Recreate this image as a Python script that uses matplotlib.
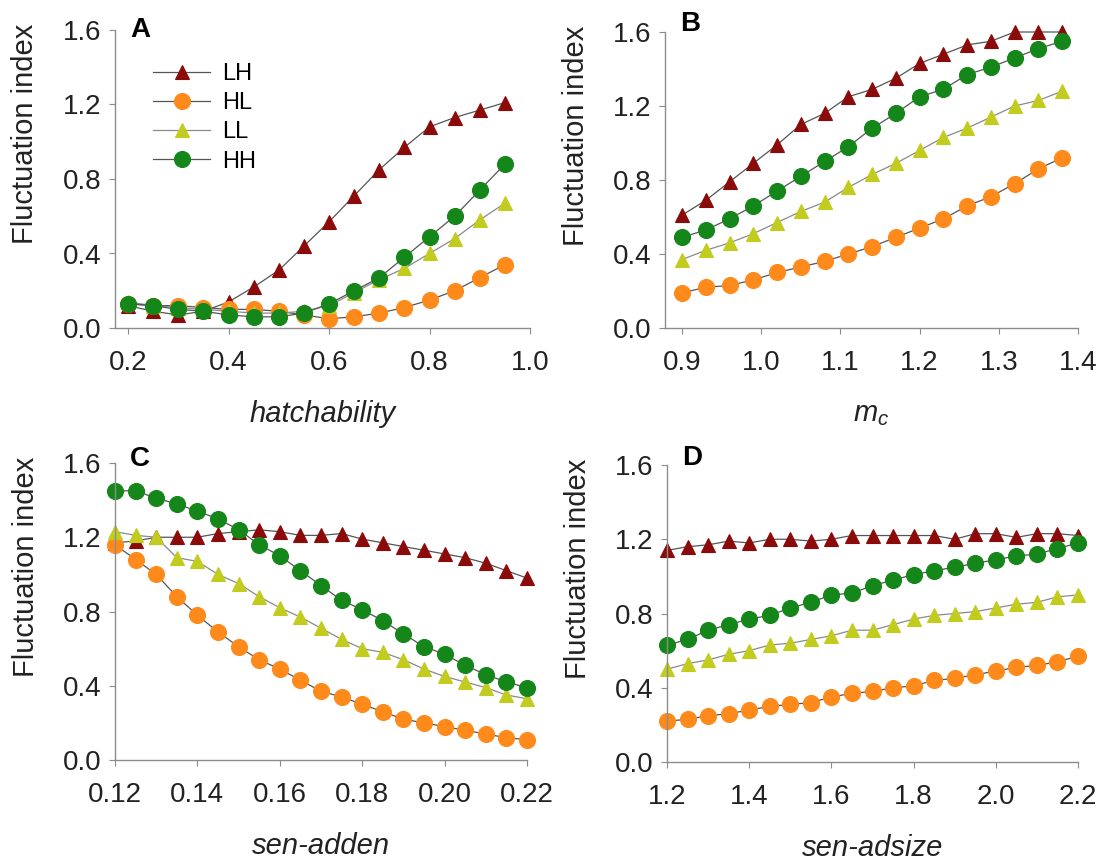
import matplotlib
matplotlib.use("Agg")
import matplotlib.pyplot as plt

plt.rcParams["font.family"] = ["Liberation Sans", "DejaVu Sans"]
plt.rcParams["mathtext.fontset"] = "custom"
plt.rcParams["mathtext.it"] = "Liberation Sans:italic"
plt.rcParams["mathtext.rm"] = "Liberation Sans"

series = ["LH", "HL", "LL", "HH"]
colors = {"LH": "#8b0a0a", "HL": "#ff8a1c", "LL": "#c2cc1e", "HH": "#14861a"}
markers = {"LH": "^", "HL": "o", "LL": "^", "HH": "o"}

# A: hatchability
x_a = [0.2, 0.25, 0.3, 0.35, 0.4, 0.45, 0.5, 0.55, 0.6, 0.65, 0.7, 0.75, 0.8, 0.85, 0.9, 0.95]
lh_a = [0.12, 0.09, 0.07, 0.09, 0.14, 0.22, 0.31, 0.44, 0.57, 0.71, 0.85, 0.97, 1.08, 1.13, 1.17, 1.21]
hl_a = [0.13, 0.12, 0.12, 0.11, 0.10, 0.10, 0.09, 0.07, 0.05, 0.06, 0.08, 0.11, 0.15, 0.20, 0.27, 0.34]
ll_a = [0.14, 0.12, 0.11, 0.10, 0.09, 0.08, 0.08, 0.09, 0.12, 0.19, 0.26, 0.32, 0.40, 0.48, 0.58, 0.67]
hh_a = [0.13, 0.12, 0.10, 0.09, 0.07, 0.06, 0.06, 0.08, 0.13, 0.20, 0.27, 0.38, 0.49, 0.60, 0.74, 0.88]

# B: m_c
x_b = [0.9, 0.93, 0.96, 0.99, 1.02, 1.05, 1.08, 1.11, 1.14, 1.17, 1.2, 1.23, 1.26, 1.29, 1.32, 1.35, 1.38]
lh_b = [0.61, 0.69, 0.79, 0.89, 0.99, 1.10, 1.16, 1.25, 1.29, 1.35, 1.43, 1.48, 1.53, 1.55, 1.60, 1.60, 1.60]
hl_b = [0.19, 0.22, 0.23, 0.26, 0.30, 0.33, 0.36, 0.40, 0.44, 0.49, 0.54, 0.59, 0.66, 0.71, 0.78, 0.86, 0.92]
ll_b = [0.37, 0.42, 0.46, 0.51, 0.57, 0.63, 0.68, 0.76, 0.83, 0.89, 0.96, 1.03, 1.08, 1.14, 1.20, 1.23, 1.28]
hh_b = [0.49, 0.53, 0.59, 0.66, 0.74, 0.82, 0.90, 0.98, 1.08, 1.16, 1.25, 1.29, 1.37, 1.41, 1.46, 1.51, 1.55]

# C: sen-adden
x_c = [0.12, 0.125, 0.13, 0.135, 0.14, 0.145, 0.15, 0.155, 0.16, 0.165, 0.17,
       0.175, 0.18, 0.185, 0.19, 0.195, 0.2, 0.205, 0.21, 0.215, 0.22]
lh_c = [1.17, 1.18, 1.20, 1.20, 1.20, 1.22, 1.23, 1.24, 1.23, 1.21, 1.21,
        1.22, 1.19, 1.17, 1.15, 1.13, 1.11, 1.09, 1.06, 1.02, 0.98]
hl_c = [1.16, 1.08, 1.00, 0.88, 0.78, 0.69, 0.61, 0.54, 0.49, 0.43, 0.37,
        0.34, 0.30, 0.26, 0.22, 0.20, 0.18, 0.16, 0.14, 0.12, 0.11]
ll_c = [1.23, 1.21, 1.20, 1.09, 1.07, 1.00, 0.95, 0.88, 0.82, 0.77, 0.71,
        0.65, 0.60, 0.58, 0.54, 0.49, 0.45, 0.42, 0.39, 0.35, 0.33]
hh_c = [1.45, 1.45, 1.41, 1.38, 1.34, 1.30, 1.24, 1.16, 1.10, 1.02, 0.94,
        0.86, 0.81, 0.75, 0.68, 0.61, 0.57, 0.51, 0.46, 0.42, 0.39]

# D: sen-adsize
x_d = [1.2, 1.25, 1.3, 1.35, 1.4, 1.45, 1.5, 1.55, 1.6, 1.65, 1.7,
       1.75, 1.8, 1.85, 1.9, 1.95, 2.0, 2.05, 2.1, 2.15, 2.2]
lh_d = [1.14, 1.16, 1.17, 1.19, 1.18, 1.20, 1.20, 1.19, 1.20, 1.22, 1.22,
        1.22, 1.22, 1.22, 1.20, 1.23, 1.23, 1.21, 1.23, 1.23, 1.22]
hl_d = [0.22, 0.23, 0.25, 0.26, 0.28, 0.30, 0.31, 0.32, 0.35, 0.37, 0.38,
        0.40, 0.41, 0.44, 0.45, 0.47, 0.49, 0.51, 0.52, 0.54, 0.57]
ll_d = [0.50, 0.53, 0.55, 0.58, 0.60, 0.63, 0.64, 0.66, 0.68, 0.71, 0.71,
        0.74, 0.77, 0.79, 0.80, 0.81, 0.83, 0.85, 0.86, 0.89, 0.90]
hh_d = [0.63, 0.66, 0.71, 0.74, 0.77, 0.79, 0.83, 0.86, 0.90, 0.91, 0.95,
        0.98, 1.01, 1.03, 1.05, 1.07, 1.09, 1.11, 1.12, 1.15, 1.18]

W, H = 1102, 863
fig = plt.figure(figsize=(W / 100, H / 100), dpi=100)


def make_axes(left, right, top, bottom):
    return fig.add_axes([left / W, 1 - bottom / H, (right - left) / W, (bottom - top) / H])


panels = [
    ("A", make_axes(115, 530, 30, 328), x_a, [lh_a, hl_a, ll_a, hh_a], (0.174, 1.0),
     [0.2, 0.4, 0.6, 0.8, 1.0], "%.1f", "hatchability", 0.975),
    ("B", make_axes(665, 1078, 32, 328), x_b, [lh_b, hl_b, ll_b, hh_b], (0.8785, 1.4),
     [0.9, 1.0, 1.1, 1.2, 1.3, 1.4], "%.1f", "$m_c$", 1.005),
    ("C", make_axes(115, 527, 463, 760), x_c, [lh_c, hl_c, ll_c, hh_c], (0.12, 0.22),
     [0.12, 0.14, 0.16, 0.18, 0.20, 0.22], "%.2f", "sen-adden", 0.99),
    ("D", make_axes(667, 1078, 465, 762), x_d, [lh_d, hl_d, ll_d, hh_d], (1.2, 2.2),
     [1.2, 1.4, 1.6, 1.8, 2.0, 2.2], "%.1f", "sen-adsize", 1.0),
]

for letter, ax, x, ys, xlim, xticks, fmt, xlabel, ly in panels:
    for name, y in zip(series, ys):
        ax.plot(x, y, color="#555555" if name != "LL" else "#8a8a8a", lw=0.9,
                marker=markers[name], ms=11.5 if markers[name] == "o" else 10.5,
                mfc=colors[name], mec=colors[name], mew=0.8, label=name, clip_on=False)
    ax.set_xlim(*xlim)
    ax.set_ylim(0, 1.6)
    ax.set_xticks(xticks)
    ax.set_xticklabels([fmt % t for t in xticks])
    ax.set_yticks([0, 0.4, 0.8, 1.2, 1.6])
    ax.set_yticklabels(["0.0", "0.4", "0.8", "1.2", "1.6"])
    for s in ["top", "right"]:
        ax.spines[s].set_visible(False)
    for s in ["left", "bottom"]:
        ax.spines[s].set_color("#8c8c8c")
        ax.spines[s].set_linewidth(1.0)
    ax.tick_params(direction="out", length=4, width=0.8, color="#8c8c8c",
                   labelsize=20, labelcolor="#222222")
    ax.tick_params(axis="x", pad=12)
    ax.tick_params(axis="y", pad=6)
    ax.set_ylabel("Fluctuation index", fontsize=21, color="#222222")
    ax.yaxis.set_label_coords(-0.182, 0.65)
    ax.set_xlabel(xlabel, fontsize=21, style="italic", color="#222222", labelpad=17)
    ax.text(0.036, ly, letter, transform=ax.transAxes, fontsize=20,
            fontweight="bold", va="baseline", ha="left")

leg = panels[0][1].legend(loc="upper left", bbox_to_anchor=(0.07, 0.92), frameon=False,
                          fontsize=17, handlelength=2.4, labelspacing=0.3,
                          handletextpad=0.5, borderaxespad=0)

fig.savefig("out.png", dpi=100)
